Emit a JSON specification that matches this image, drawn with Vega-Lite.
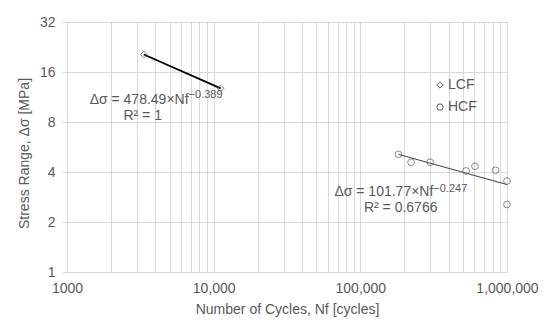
{
  "$schema": "https://vega.github.io/schema/vega-lite/v6.json",
  "width": 440,
  "height": 250,
  "autosize": {"type": "none"},
  "padding": {"left": 67, "top": 22, "right": 43, "bottom": 63},
  "background": "white",
  "config": {
    "view": {"stroke": null},
    "font": "Liberation Sans",
    "axis": {
      "labelFont": "Liberation Sans",
      "titleFont": "Liberation Sans",
      "labelFontSize": 14,
      "titleFontSize": 14,
      "titleFontWeight": "normal",
      "labelColor": "#595959",
      "titleColor": "#595959",
      "gridColor": "#d9d9d9",
      "gridWidth": 1,
      "domainColor": "#d9d9d9",
      "tickColor": "#d9d9d9"
    },
    "legend": {"labelFont": "Liberation Sans"}
  },
  "datasets": {
    "points": [
      {"series": "LCF", "N": 3340, "S": 20.4},
      {"series": "LCF", "N": 11170, "S": 12.74},
      {"series": "HCF", "N": 181800, "S": 5.11},
      {"series": "HCF", "N": 221800, "S": 4.58},
      {"series": "HCF", "N": 298900, "S": 4.58},
      {"series": "HCF", "N": 525600, "S": 4.06},
      {"series": "HCF", "N": 605000, "S": 4.33},
      {"series": "HCF", "N": 836000, "S": 4.1},
      {"series": "HCF", "N": 1000000, "S": 3.53},
      {"series": "HCF", "N": 1000000, "S": 2.55}
    ],
    "trend": [
      {"series": "LCF", "N": 3340, "S": 20.4},
      {"series": "LCF", "N": 11170, "S": 12.74},
      {"series": "HCF", "N": 181800, "S": 5.11},
      {"series": "HCF", "N": 1000000, "S": 3.36}
    ],
    "notes": [
      {"part": "main", "text": "Δσ = 478.49×Nf", "N": 6745, "S": 10.91},
      {"part": "sup", "text": "−0.389", "N": 6745, "S": 11.7},
      {"part": "r2", "text": "R² = 1", "N": 3280, "S": 8.69},
      {"part": "main", "text": "Δσ = 101.77×Nf", "N": 314700, "S": 3.03},
      {"part": "sup", "text": "−0.247", "N": 314700, "S": 3.18},
      {"part": "r2", "text": "R² = 0.6766", "N": 188500, "S": 2.43}
    ]
  },
  "encoding": {
    "x": {
      "field": "N",
      "type": "quantitative",
      "scale": {"type": "log", "domain": [1000, 1000000], "nice": false},
      "axis": {
        "title": "Number of Cycles, Nf [cycles]",
        "values": [1000, 2000, 3000, 4000, 5000, 6000, 7000, 8000, 9000, 10000, 20000, 30000, 40000, 50000, 60000, 70000, 80000, 90000, 100000, 200000, 300000, 400000, 500000, 600000, 700000, 800000, 900000, 1000000],
        "labelExpr": "datum.value == 1000 ? '1000' : (datum.value == 10000 || datum.value == 100000 || datum.value == 1000000) ? format(datum.value, ',') : ''",
        "labelOverlap": false,
        "labelFlush": false,
        "ticks": false,
        "labelPadding": 9,
        "titlePadding": 7,
        "grid": true
      }
    },
    "y": {
      "field": "S",
      "type": "quantitative",
      "scale": {"type": "log", "base": 2, "domain": [1, 32], "nice": false},
      "axis": {
        "title": "Stress Range, Δσ [MPa]",
        "values": [1, 2, 4, 8, 16, 32],
        "format": "d",
        "ticks": true,
        "tickSize": 5,
        "labelPadding": 7,
        "titlePadding": 8,
        "titleY": 131,
        "grid": true
      }
    }
  },
  "layer": [
    {
      "data": {"name": "trend"},
      "transform": [{"filter": "datum.series == 'LCF'"}],
      "mark": {"type": "line", "color": "#000000", "strokeWidth": 1.8}
    },
    {
      "data": {"name": "trend"},
      "transform": [{"filter": "datum.series == 'HCF'"}],
      "mark": {"type": "line", "color": "#404040", "strokeWidth": 1}
    },
    {
      "data": {"name": "points"},
      "mark": {"type": "point", "filled": false, "strokeWidth": 1, "size": 45, "color": "#595959"},
      "encoding": {
        "shape": {
          "field": "series",
          "type": "nominal",
          "scale": {"domain": ["LCF", "HCF"], "range": ["diamond", "circle"]},
          "legend": {
            "title": null,
            "orient": "none",
            "legendX": 366,
            "legendY": 56,
            "padding": 0,
            "labelFontSize": 14,
            "labelColor": "#595959",
            "symbolStrokeColor": "#595959",
            "symbolStrokeWidth": 1,
            "symbolSize": 40,
            "symbolOpacity": 1,
            "labelOffset": 1,
            "rowPadding": 8,
            "encode": {
              "symbols": {
                "update": {
                  "stroke": {"value": "#595959"},
                  "fill": {"value": "transparent"},
                  "strokeWidth": {"value": 1},
                  "opacity": {"value": 1}
                }
              }
            }
          }
        }
      }
    },
    {
      "data": {"name": "notes"},
      "transform": [{"filter": "datum.part == 'main'"}],
      "mark": {"type": "text", "align": "right", "baseline": "middle", "fontSize": 14, "color": "#595959", "font": "Liberation Sans"},
      "encoding": {"text": {"field": "text"}}
    },
    {
      "data": {"name": "notes"},
      "transform": [{"filter": "datum.part == 'sup'"}],
      "mark": {"type": "text", "align": "left", "baseline": "middle", "fontSize": 11, "color": "#595959", "font": "Liberation Sans"},
      "encoding": {"text": {"field": "text"}}
    },
    {
      "data": {"name": "notes"},
      "transform": [{"filter": "datum.part == 'r2'"}],
      "mark": {"type": "text", "align": "center", "baseline": "middle", "fontSize": 14, "color": "#595959", "font": "Liberation Sans"},
      "encoding": {"text": {"field": "text"}}
    }
  ]
}
